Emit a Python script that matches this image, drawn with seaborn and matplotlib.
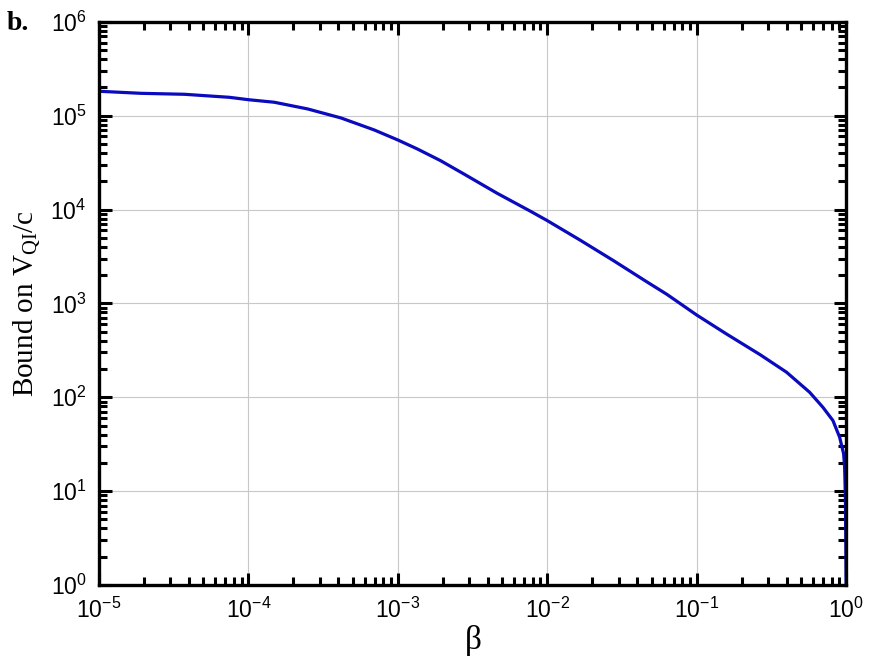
import numpy as np
import pandas as pd
import matplotlib
matplotlib.use("Agg")
import matplotlib.pyplot as plt
import seaborn as sns

# значения (beta, bound)
beta = [1.0e-5, 1.92e-5, 3.73e-5, 7.43e-5, 1.0e-4, 1.49e-4, 2.49e-4, 4.16e-4,
        6.94e-4, 1.0e-3, 1.35e-3, 1.93e-3, 2.77e-3, 4.62e-3, 7.71e-3, 1.0e-2,
        1.66e-2, 2.77e-2, 4.63e-2, 6.31e-2, 0.1, 0.158, 0.265, 0.399, 0.570,
        0.700, 0.816, 0.905, 0.962, 0.977, 0.99, 1.0]
bound = [1.82e5, 1.73e5, 1.69e5, 1.57e5, 1.48e5, 1.39e5, 1.18e5, 9.46e4,
         7.05e4, 5.51e4, 4.42e4, 3.32e4, 2.39e4, 1.49e4, 9.6e3, 7.62e3,
         4.72e3, 2.86e3, 1.70e3, 1.25e3, 752, 473, 285, 185, 113,
         78, 56.5, 37.5, 25, 18, 8, 1.0]

# подписи делений
x_exps = [-5, -4, -3, -2, -1, 0]
y_exps = [0, 1, 2, 3, 4, 5, 6]

df = pd.DataFrame({"beta": beta, "bound": bound})

sns.set_theme(style="ticks")
plt.rcParams["font.family"] = ["Liberation Sans", "DejaVu Sans"]
plt.rcParams["mathtext.fontset"] = "custom"
plt.rcParams["mathtext.rm"] = "Liberation Serif"
plt.rcParams["mathtext.it"] = "Liberation Serif"

fig = plt.figure(figsize=(8.79, 6.61), dpi=100)
ax = fig.add_axes([0.1126, 0.115, 0.85, 0.852])

sns.lineplot(data=df, x="beta", y="bound", ax=ax, color="#0A0ABE",
             linewidth=2.3, sort=False, estimator=None)

ax.set_xscale("log")
ax.set_yscale("log")
ax.set_xlim(1e-5, 1e0)
ax.set_ylim(1e0, 1e6)

ax.set_xticks([10.0 ** e for e in x_exps])
ax.set_xticklabels([r"$\mathdefault{10^{%d}}$" % e for e in x_exps])
ax.set_yticks([10.0 ** e for e in y_exps])
ax.set_yticklabels([r"$\mathdefault{10^{%d}}$" % e for e in y_exps])

ax.grid(True, which="major", color="#c8c8c8", linewidth=0.8)
ax.set_axisbelow(True)

for side in ["left", "right", "top", "bottom"]:
    ax.spines[side].set_visible(True)
    ax.spines[side].set_linewidth(2.4)
    ax.spines[side].set_color("black")

ax.tick_params(which="both", direction="in", top=True, right=True,
               color="black", width=2.2, labelcolor="black")
ax.tick_params(which="major", length=9, labelsize=16.5, pad=9)
ax.tick_params(which="minor", length=6)
for lbl in ax.get_xticklabels() + ax.get_yticklabels():
    lbl.set_fontfamily("Liberation Sans")

ax.set_xlabel(r"$\beta$", fontsize=24, labelpad=0, color="black")
ax.set_ylabel(r"Bound on V$_{\mathrm{QI}}$/c", fontsize=21,
              family="Liberation Serif", labelpad=6, color="black")

fig.text(0.008, 0.955, "b.", fontsize=20, fontweight="bold",
         family="Liberation Serif", color="black")

plt.savefig("out.png", dpi=100)
plt.close()
